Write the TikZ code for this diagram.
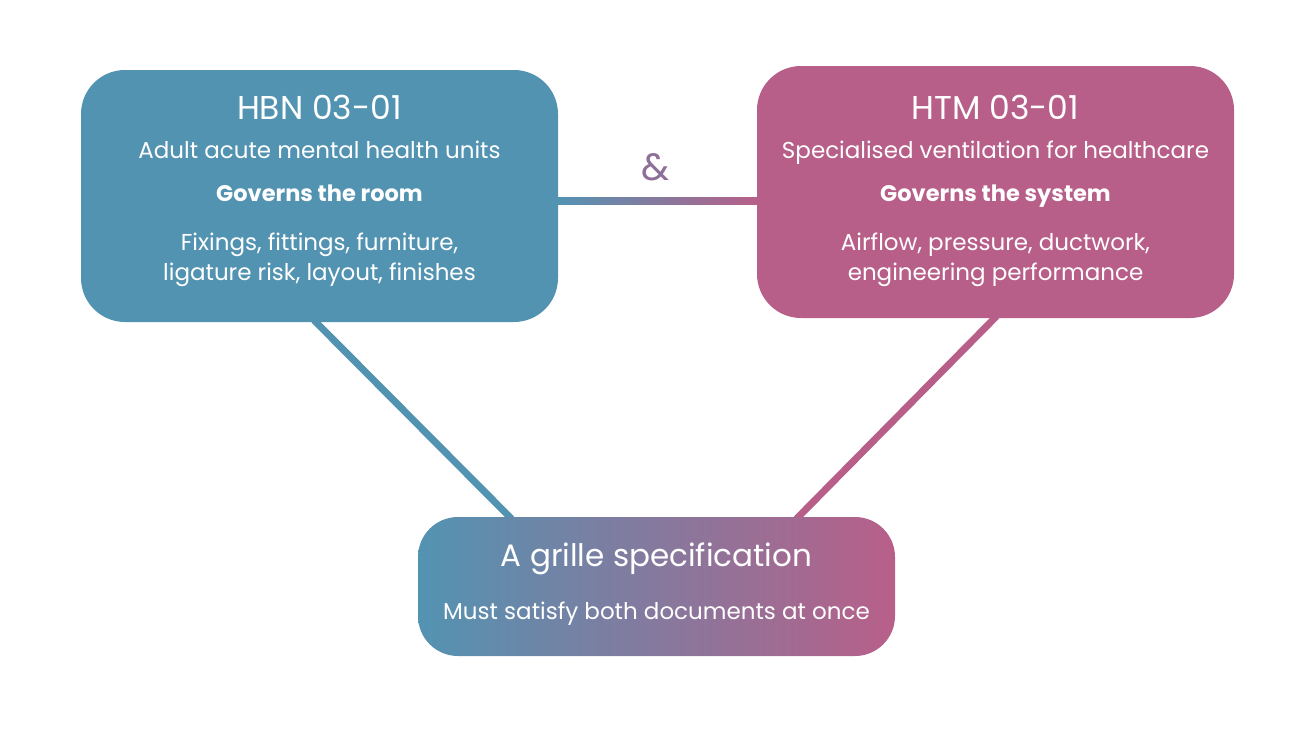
\documentclass[tikz,border=0pt]{standalone}
\usepackage{fontspec}
\setmainfont{Poppins}
\usetikzlibrary{backgrounds,calc}
\definecolor{blu}{RGB}{83,147,178}
\definecolor{pnk}{RGB}{184,95,137}
\definecolor{amp}{RGB}{142,111,152}
\tikzset{
  box/.style={rounded corners=44pt, inner sep=0pt, minimum width=477pt},
  ttl/.style={text=white, anchor=base, inner sep=0pt, font=\fontsize{33}{38}\selectfont},
  ttlb/.style={text=white, anchor=base, inner sep=0pt, font=\fontsize{31}{36}\selectfont},
  sub/.style={text=white, anchor=base, inner sep=0pt, font=\fontsize{23}{27}\selectfont},
  bld/.style={text=white, anchor=base, inner sep=0pt, font=\fontsize{22.5}{27}\selectfont\bfseries},
  conn/.style={line width=7pt},
}
\begin{document}
\begin{tikzpicture}[x=1pt,y=-1pt]
\useasboundingbox (0,0) rectangle (1314,739);
\node[box, fill=blu, minimum height=252pt] (hbn) at (319.5,196) {};
\node[box, fill=pnk, minimum height=252pt] (htm) at (995.5,192) {};
\node[box, left color=blu, right color=pnk, minimum height=139pt, rounded corners=40pt] (spec) at (656.5,586.5) {};
% texts
\node[ttl] (t1) at (319.5,119) {HBN 03-01};
\node[sub] (s1) at (319.5,158.5) {Adult acute mental health units};
\node[bld] (g1) at (319.5,201.5) {Governs the room};
\node[sub] (d1a) at (319.5,250.5) {Fixings, fittings, furniture,};
\node[sub] (d1b) at (319.5,280.5) {ligature risk, layout, finishes};
\node[ttl] (t2) at (995.5,119) {HTM 03-01};
\node[sub] (s2) at (995.5,158.5) {Specialised ventilation for healthcare};
\node[bld] (g2) at (995.5,201.5) {Governs the system};
\node[sub] (d2a) at (995.5,250.5) {Airflow, pressure, ductwork,};
\node[sub] (d2b) at (995.5,280.5) {engineering performance};
\node[ttlb] (t3) at (656.5,566.5) {A grille specification};
\node[sub] (s3) at (656.5,619.5) {Must satisfy both documents at once};
\node[text=amp, inner sep=0pt, font=\fontsize{38}{42}\selectfont] (and) at (656,167) {\&};
\begin{pgfonlayer}{background}
  \shade[left color=blu, right color=pnk] ($(hbn.east)+(-2,1.5)$) rectangle ($(htm.west)+(2,12.5)$);
  \draw[conn, blu] ($(hbn.south)+(-5.5,-2)$) -- ($(spec.north)+(-145,2)$);
  \draw[conn, pnk] ($(htm.south)+(1,-2)$) -- ($(spec.north)+(140,2)$);
\end{pgfonlayer}
\end{tikzpicture}
\end{document}
